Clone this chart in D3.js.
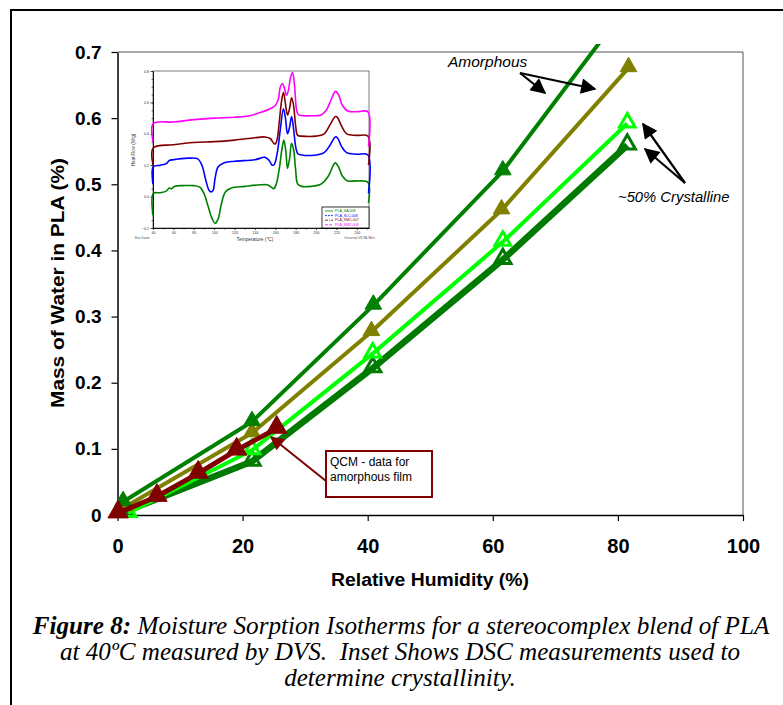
<!DOCTYPE html>
<html><head><meta charset="utf-8">
<script src="https://cdn.jsdelivr.net/npm/d3@7"></script>
<style>
html,body{margin:0;padding:0;background:#fff;}
svg{display:block;}
</style></head>
<body>
<svg id="c" width="783" height="705"></svg>
<script>
// ---------- Main chart data (Relative Humidity %, Mass of water %) ----------
const xTicks = [0, 20, 40, 60, 80, 100];
const yTicks = [0, 0.1, 0.2, 0.3, 0.4, 0.5, 0.6, 0.7];
const yTickLabels = ["0", "0.1", "0.2", "0.3", "0.4", "0.5", "0.6", "0.7"];

const amorphousA_RH   = [0.9, 21.5, 40.9, 61.6, 81.5];
const amorphousA_mass = [0.020, 0.141, 0.317, 0.520, 0.770];
const amorphousB_RH   = [1.2, 21.5, 40.6, 61.4, 81.7];
const amorphousB_mass = [0.012, 0.124, 0.277, 0.461, 0.676];
const crystA_RH   = [1.7, 21.5, 40.8, 61.6, 81.5];
const crystA_mass = [0.003, 0.098, 0.244, 0.413, 0.592];
const crystB_RH   = [1.2, 21.5, 40.8, 61.6, 81.5];
const crystB_mass = [0.005, 0.081, 0.222, 0.386, 0.559];
const qcm_RH   = [0.1, 6.3, 12.9, 19.05, 25.45];
const qcm_mass = [0.003, 0.028, 0.063, 0.098, 0.131];

// ---------- Inset DSC data ([temperature °C, heat flow W/g]) ----------
const dscSA008 = [[40,-0.12],[40.3,0.02],[47,0.025],[53,0.035],[56,0.055],[58,0.05],[61,0.065],[70,0.07],[80,0.07],[86,0.06],[90,0.02],[94,-0.06],[98,-0.14],[101,-0.17],[104,-0.14],[107,-0.05],[111,0.03],[117,0.055],[130,0.065],[145,0.075],[152,0.075],[156,0.06],[158.5,0.05],[161,0.08],[164,0.18],[166.5,0.3],[168.5,0.36],[170.5,0.28],[172,0.18],[174,0.24],[176,0.34],[178,0.3],[180,0.17],[182,0.08],[186,0.065],[195,0.065],[205,0.08],[212,0.13],[217,0.2],[219,0.215],[222,0.19],[226,0.13],[231,0.1],[240,0.1],[251,0.09],[251.5,-0.04]];
const dscSLC008 = [[40,0.08],[40.3,0.19],[47,0.2],[53,0.21],[56,0.23],[60,0.235],[65,0.24],[75,0.245],[84,0.24],[88,0.2],[92,0.1],[95,0.04],[97,0.03],[99,0.04],[101,0.12],[104,0.19],[110,0.215],[120,0.225],[140,0.235],[150,0.25],[154,0.23],[157,0.2],[159,0.205],[162,0.28],[165,0.43],[168,0.56],[170,0.5],[172,0.4],[174,0.44],[176,0.51],[178,0.43],[180,0.32],[182,0.275],[186,0.265],[200,0.265],[208,0.28],[214,0.33],[219,0.38],[221,0.375],[225,0.32],[230,0.28],[240,0.27],[251,0.265],[251.5,0.02]];
const dscSMC007 = [[40,0.2],[40.3,0.31],[60,0.33],[80,0.345],[100,0.35],[120,0.36],[140,0.375],[150,0.38],[155,0.37],[158.5,0.34],[160,0.335],[162,0.37],[164,0.48],[166,0.6],[168,0.665],[170,0.59],[172,0.52],[174,0.56],[176,0.63],[178,0.58],[180,0.45],[182,0.39],[186,0.385],[200,0.385],[208,0.4],[214,0.46],[219,0.51],[221,0.505],[225,0.45],[230,0.4],[240,0.39],[251,0.385],[251.5,0.2]];
const dscSMC008 = [[40,0.35],[40.3,0.465],[60,0.475],[80,0.49],[100,0.5],[120,0.505],[135,0.515],[145,0.535],[155,0.56],[160,0.58],[163,0.62],[165,0.7],[167,0.72],[169,0.69],[171,0.645],[173,0.68],[175,0.76],[177,0.79],[179,0.7],[181,0.55],[183,0.52],[195,0.515],[205,0.52],[210,0.55],[215,0.62],[219,0.67],[222,0.65],[226,0.58],[231,0.545],[240,0.54],[251,0.54],[251.5,0.32]];
const insetXTicks = [40, 60, 80, 100, 120, 140, 160, 180, 200, 220, 240];
const insetYTicks = [-0.2, 0.0, 0.2, 0.4, 0.6, 0.8];
const insetLegend = ["PLA_SA.008", "PLA_SLC.008", "PLA_SMC.007", "PLA_SMC.008"];

const captionLines = [
  "Moisture Sorption Isotherms for a stereocomplex blend of PLA",
  "at 40ºC measured by DVS.  Inset Shows DSC measurements used to",
  "determine crystallinity."
];

// ---------- Drawing ----------
const SANS = "'Liberation Sans', Arial, sans-serif";
const SERIF = "'Liberation Serif', 'Times New Roman', serif";
const svg = d3.select("#c").style("font-family", SANS);

// outer figure frame (top + left)
svg.append("path").attr("d", "M11,705 L11,10 L783,10")
  .attr("fill", "none").attr("stroke", "#000").attr("stroke-width", 2);

const x = d3.scaleLinear().domain([0, 100]).range([117.5, 743]);
const y = d3.scaleLinear().domain([0, 0.7]).range([515, 52]);

// plot frame top/right (thin)
svg.append("path")
  .attr("d", `M${x(0)},${y(0.7)} L${x(100)},${y(0.7)} L${x(100)},${y(0)}`)
  .attr("fill", "none").attr("stroke", "#555").attr("stroke-width", 1);

// axes
const xAxis = svg.append("g").attr("transform", `translate(0,${y(0)})`)
  .call(d3.axisBottom(x).tickValues(xTicks).tickSize(6).tickSizeOuter(0).tickPadding(18));
const yAxis = svg.append("g").attr("transform", `translate(${x(0)},0)`)
  .call(d3.axisLeft(y).tickValues(yTicks).tickFormat((d, i) => yTickLabels[i]).tickSize(6).tickSizeOuter(0).tickPadding(10));
[xAxis, yAxis].forEach(g => {
  g.select(".domain").attr("stroke", "#000").attr("stroke-width", 1.5);
  g.selectAll(".tick line").attr("stroke", "#000").attr("stroke-width", 1.2);
  g.selectAll(".tick text").attr("fill", "#000").attr("font-weight", "bold")
    .style("font-family", SANS);
});
yAxis.selectAll(".tick text").style("font-size", "19px");
xAxis.selectAll(".tick text").style("font-size", "20px").attr("dy", "0.71em");

// axis titles
svg.append("text").attr("x", 430).attr("y", 586).attr("text-anchor", "middle")
  .style("font-size", "18px").attr("font-weight", "bold")
  .attr("textLength", 198).attr("lengthAdjust", "spacingAndGlyphs").text("Relative Humidity (%)");
svg.append("text").attr("transform", "translate(64,283) rotate(-90)").attr("text-anchor", "middle")
  .style("font-size", "18px").attr("font-weight", "bold")
  .attr("textLength", 250).attr("lengthAdjust", "spacingAndGlyphs").text("Mass of Water in PLA (%)");

// clip for data
svg.append("clipPath").attr("id", "pc").append("rect")
  .attr("x", 100).attr("y", 44).attr("width", 660).attr("height", 490);

const line = d3.line().x(d => x(d[0])).y(d => y(d[1]));

function series(rh, mass, color, lw, open, msize) {
  const pts = rh.map((v, i) => [v, mass[i]]);
  const g = svg.append("g").attr("clip-path", "url(#pc)");
  g.append("path").attr("d", line(pts)).attr("fill", "none")
    .attr("stroke", color).attr("stroke-width", lw).attr("stroke-linejoin", "round");
  g.selectAll("path.m").data(pts).join("path").attr("class", "m")
    .attr("transform", d => `translate(${x(d[0])},${y(d[1]) - 1})`)
    .attr("d", d3.symbol().type(d3.symbolTriangle).size(msize)())
    .attr("fill", open ? "none" : color)
    .attr("stroke", color).attr("stroke-width", open ? 3 : 1);
}
series(crystB_RH, crystB_mass, "#007a00", 6.5, true, 115);
series(crystA_RH, crystA_mass, "#00ff00", 4, true, 105);
series(amorphousB_RH, amorphousB_mass, "#808000", 4, false, 120);
series(amorphousA_RH, amorphousA_mass, "#008000", 4, false, 120);
series(qcm_RH, qcm_mass, "#800000", 5, false, 180);

// ---------- Inset ----------
const xi = d3.scaleLinear().domain([40, 252]).range([153, 369]);
const yi = d3.scaleLinear().domain([-0.2, 0.8]).range([228, 71]);
const ins = svg.append("g");
ins.append("rect").attr("x", 153).attr("y", 71).attr("width", 216).attr("height", 157)
  .attr("fill", "#fff").attr("stroke", "#444").attr("stroke-width", 0.7);
ins.append("g").attr("transform", "translate(0,228)")
  .call(d3.axisBottom(xi).tickValues(insetXTicks).tickSize(2).tickSizeOuter(0).tickPadding(1.5));
ins.append("g").attr("transform", "translate(153,0)")
  .call(d3.axisLeft(yi).tickValues(insetYTicks).tickFormat(d3.format(".1f")).tickSize(2.5).tickSizeOuter(0).tickPadding(1.5));
// minor ticks
ins.append("g").attr("transform", "translate(153,0)")
  .call(d3.axisLeft(yi).tickValues(d3.range(-0.2, 0.81, 0.05)).tickFormat("").tickSize(1.5).tickSizeOuter(0))
  .select(".domain").remove();
ins.append("g").attr("transform", "translate(0,228)")
  .call(d3.axisBottom(xi).tickValues(d3.range(40, 252, 10)).tickFormat("").tickSize(1.5).tickSizeOuter(0))
  .select(".domain").remove();
ins.selectAll(".domain").attr("stroke", "#000").attr("stroke-width", 0.9);
ins.selectAll(".tick line").attr("stroke", "#000").attr("stroke-width", 0.6);
ins.selectAll(".tick text").style("font-size", "3.6px").attr("fill", "#333").style("font-family", SANS);

const iline = d3.line().x(d => xi(d[0])).y(d => yi(d[1])).curve(d3.curveCatmullRom.alpha(0.5));
const dscSets = [[dscSA008, "#008000"], [dscSLC008, "#0000ff"], [dscSMC007, "#800000"], [dscSMC008, "#ff00ff"]];
dscSets.forEach(([d, c]) => {
  ins.append("path").attr("d", iline(d)).attr("fill", "none").attr("stroke", c).attr("stroke-width", 1.6);
});
// inset legend
ins.append("rect").attr("x", 322).attr("y", 207).attr("width", 47).attr("height", 21)
  .attr("fill", "#fff").attr("stroke", "#000").attr("stroke-width", 0.8);
const legDash = [null, "2,1", "3,1,1,1", "3,1"];
insetLegend.forEach((n, i) => {
  const yy = 211 + i * 4.6;
  ins.append("line").attr("x1", 325).attr("x2", 333).attr("y1", yy).attr("y2", yy)
    .attr("stroke", dscSets[i][1]).attr("stroke-width", 0.8).attr("stroke-dasharray", legDash[i]);
  ins.append("text").attr("x", 335).attr("y", yy + 1.2).style("font-size", "3.6px")
    .attr("fill", dscSets[i][1]).text(n);
});
ins.append("text").attr("transform", "translate(135,150) rotate(-90)").attr("text-anchor", "middle")
  .style("font-size", "4.5px").attr("fill", "#333").text("Heat Flow (W/g)");
ins.append("text").attr("x", 255).attr("y", 241).attr("text-anchor", "middle")
  .style("font-size", "4.8px").attr("fill", "#333").text("Temperature (°C)");
ins.append("text").attr("x", 135).attr("y", 239).style("font-size", "3.2px").attr("fill", "#555").text("Exo Down");
ins.append("text").attr("x", 375).attr("y", 239).attr("text-anchor", "end").style("font-size", "3.2px").attr("fill", "#555").text("Universal V3.9A TA In");

// ---------- Annotations ----------
const defs = svg.append("defs");
function marker(id, color) {
  defs.append("marker").attr("id", id).attr("viewBox", "0 0 10 10").attr("refX", 9).attr("refY", 5)
    .attr("markerWidth", 8).attr("markerHeight", 7).attr("markerUnits", "strokeWidth").attr("orient", "auto")
    .append("path").attr("d", "M0,0 L10,5 L0,10 z").attr("fill", color);
}
marker("ab", "#000");
marker("ar", "#800000");

svg.append("text").attr("x", 448).attr("y", 67).style("font-size", "15.5px").attr("font-style", "italic").text("Amorphous");
svg.append("line").attr("x1", 520).attr("y1", 73).attr("x2", 545).attr("y2", 93)
  .attr("stroke", "#000").attr("stroke-width", 2.2).attr("marker-end", "url(#ab)");
svg.append("line").attr("x1", 520).attr("y1", 73).attr("x2", 595).attr("y2", 89)
  .attr("stroke", "#000").attr("stroke-width", 2.2).attr("marker-end", "url(#ab)");

svg.append("text").attr("x", 618).attr("y", 202).style("font-size", "14.8px").attr("font-style", "italic").text("~50% Crystalline");
svg.append("line").attr("x1", 685).attr("y1", 183).attr("x2", 643).attr("y2", 124)
  .attr("stroke", "#000").attr("stroke-width", 2.2).attr("marker-end", "url(#ab)");
svg.append("line").attr("x1", 685).attr("y1", 183).attr("x2", 645).attr("y2", 149)
  .attr("stroke", "#000").attr("stroke-width", 2.2).attr("marker-end", "url(#ab)");

svg.append("line").attr("x1", 326).attr("y1", 481).attr("x2", 271).attr("y2", 437)
  .attr("stroke", "#800000").attr("stroke-width", 2).attr("marker-end", "url(#ar)");
svg.append("rect").attr("x", 326).attr("y", 451).attr("width", 106).attr("height", 46)
  .attr("fill", "#fff").attr("stroke", "#800000").attr("stroke-width", 2);
svg.append("text").attr("x", 330).attr("y", 466).style("font-size", "12px").text("QCM - data for");
svg.append("text").attr("x", 330).attr("y", 481).style("font-size", "12px").text("amorphous film");

// ---------- Caption (Times-metric serif italic, sized to the reference line width) ----------
const capG = svg.append("g").style("font-family", SERIF).style("font-style", "italic");
const cap1 = capG.append("text").attr("x", 401).attr("y", 634).attr("text-anchor", "middle").style("font-size", "24px");
cap1.append("tspan").attr("font-weight", "bold").text("Figure 8:");
cap1.append("tspan").text(" " + captionLines[0]);
const fs = 24 * 737 / cap1.node().getComputedTextLength();
cap1.style("font-size", fs + "px");
capG.append("text").attr("x", 400).attr("y", 660).attr("text-anchor", "middle").style("font-size", fs + "px")
  .style("white-space", "pre").text(captionLines[1]);
capG.append("text").attr("x", 400).attr("y", 686).attr("text-anchor", "middle").style("font-size", fs + "px")
  .text(captionLines[2]);
</script>
</body></html>
